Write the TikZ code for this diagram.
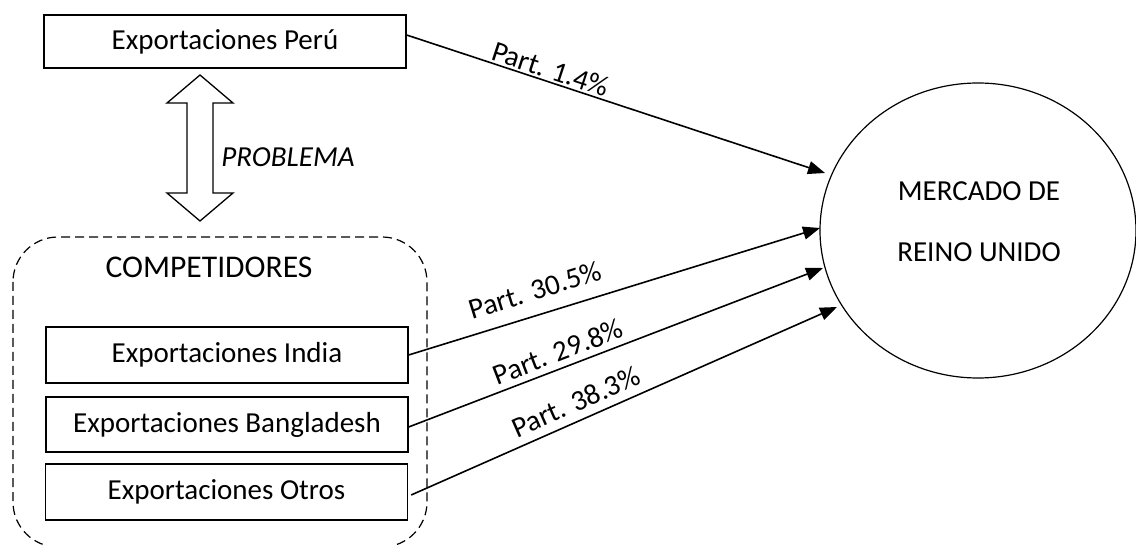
\documentclass[tikz,border=0pt]{standalone}
\usepackage{fontspec}
\setmainfont{Carlito}
\usetikzlibrary{arrows.meta,shapes.geometric}
\begin{document}
\begin{tikzpicture}[x=1pt,y=-1pt,
  boxnode/.style={draw,line width=1.3pt,minimum width=362pt,inner sep=0pt,font=\fontsize{29}{35}\selectfont},
  conn/.style={line width=1.6pt,-{Triangle[length=17pt,width=13pt]}},
  lbl/.style={sloped,inner sep=0pt,font=\fontsize{29}{35}\selectfont}]
\useasboundingbox (0,0) rectangle (1136,545);
% competitors group
\draw[line width=1.2pt,dash pattern=on 9pt off 5pt,rounded corners=45pt] (13,237) rectangle (427,547);
\node[font=\fontsize{31.6}{38}\selectfont,inner sep=0pt] (comp) at (209,267) {COMPETIDORES};
% boxes
\node[boxnode,minimum height=53pt] (peru) at (225,41.5) {Exportaciones Perú};
\node[boxnode,minimum height=56pt] (india) at (227,355) {Exportaciones India};
\node[boxnode,minimum height=55pt] (bang) at (227,424.5) {Exportaciones Bangladesh};
\node[boxnode,minimum height=56pt] (otros) at (226.5,492) {Exportaciones Otros};
% double arrow
\draw[line width=1.3pt,fill=white,line join=miter]
  (200,75) -- (233,103) -- (213,103) -- (213,193) -- (233,193) -- (200,221)
  -- (167,193) -- (187,193) -- (187,103) -- (167,103) -- cycle;
\node[font=\fontsize{29}{35}\selectfont\itshape,inner sep=0pt] (prob) at (288,157) {PROBLEMA};
% market
\node[draw,ellipse,line width=1.2pt,minimum width=316pt,minimum height=295pt,inner sep=0pt] (merc) at (978,230.5) {};
\node[align=center,font=\fontsize{29}{61}\selectfont,inner sep=0pt] (mtxt) at (979,221.5) {MERCADO DE\\REINO UNIDO};
% tips
\coordinate (tPeru) at (825,173);
\coordinate (tIndia) at (820,228);
\coordinate (tBang) at (823,268);
\coordinate (tOtros) at (837,307);
% connectors
\draw[conn] ([yshift=6.5pt]peru.east) -- node[lbl,pos=0.335,above=2pt] {Part. 1.4\%} (tPeru);
\draw[conn] (india.east) -- node[lbl,pos=0.325,above=14pt] {Part. 30.5\%} (tIndia);
\draw[conn] ([yshift=-2.5pt]bang.east) -- node[lbl,pos=0.375,above=6pt] {Part. 29.8\%} (tBang);
\draw[conn] ([xshift=3pt,yshift=-3pt]otros.east) -- node[lbl,pos=0.405,above=8pt] {Part. 38.3\%} (tOtros);
\end{tikzpicture}
\end{document}
